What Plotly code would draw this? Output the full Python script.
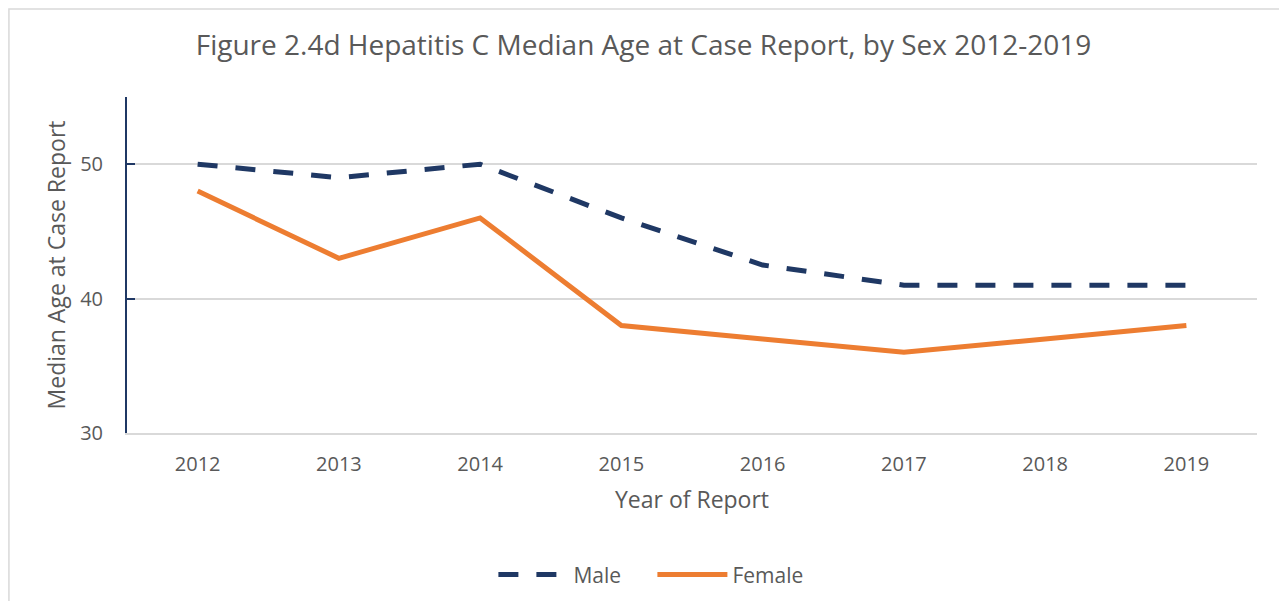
import plotly.graph_objects as go

years = ["2012", "2013", "2014", "2015", "2016", "2017", "2018", "2019"]
male = [50, 49, 50, 46, 42.5, 41, 41, 41]
female = [48, 43, 46, 38, 37, 36, 37, 38]

NAVY = "#1f3864"
ORANGE = "#ed7d31"
TEXT = "#595959"
FONT = "Open Sans"

fig = go.Figure()
fig.add_trace(go.Scatter(x=years, y=male, name="Male", mode="lines",
                         line=dict(color=NAVY, width=5, dash="20px,18px")))
fig.add_trace(go.Scatter(x=years, y=female, name="Female", mode="lines",
                         line=dict(color=ORANGE, width=5)))

# page body adds an 8px margin, so the figure is sized to fit the window
fig.update_layout(
    width=1271,
    height=593,
    paper_bgcolor="white",
    plot_bgcolor="white",
    margin=dict(l=119, r=22, t=89, b=168),
    font=dict(family=FONT, color=TEXT, size=20),
    title=dict(text="Figure 2.4d Hepatitis C Median Age at Case Report, by Sex 2012-2019",
               x=0.5, xanchor="center", y=0.9376, yanchor="middle",
               font=dict(size=28, color=TEXT, family=FONT)),
    legend=dict(orientation="h", xref="container", x=0.507, xanchor="center",
                yref="container", y=0.044, yanchor="middle",
                font=dict(size=21, color=TEXT), itemwidth=70,
                entrywidth=74, entrywidthmode="pixels"),
    showlegend=True,
    shapes=[dict(type="rect", xref="paper", yref="paper", layer="below",
                 x0=-0.1045, x1=1.2, y0=-1, y1=1.262,
                 line=dict(color="#d9d9d9", width=1.5))],
)

fig.update_xaxes(
    type="category",
    range=[-0.5, 7.5],
    automargin=False,
    showgrid=False,
    showline=True,
    linecolor="#d9d9d9",
    linewidth=1.5,
    ticks="",
    ticklabelstandoff=12,
    tickfont=dict(size=20, color=TEXT),
    title=dict(text="Year of Report", font=dict(size=23, color=TEXT), standoff=16),
)
fig.update_yaxes(
    range=[30, 55],
    tickvals=[30, 40, 50],
    automargin=False,
    showgrid=True,
    gridcolor="#d9d9d9",
    gridwidth=1.5,
    zeroline=False,
    showline=True,
    linecolor=NAVY,
    linewidth=2,
    ticks="inside",
    ticklen=8,
    tickcolor=NAVY,
    tickwidth=2,
    ticklabelstandoff=18,
    tickfont=dict(size=20, color=TEXT),
    title=dict(text="Median Age at Case Report", font=dict(size=23, color=TEXT), standoff=8),
)

fig.write_html("out.html")
